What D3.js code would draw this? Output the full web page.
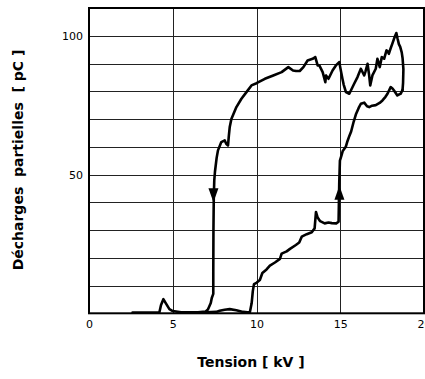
<!DOCTYPE html>
<html>
<head>
<meta charset="UTF-8">
<title>Décharges partielles</title>
<style>
  body {margin:0; background:#fff;}
  text {font-family:"DejaVu Sans", Verdana, sans-serif; fill:#000;}
  .tick text {font-size:11px;}
  .grid line {stroke:#222; stroke-width:1px; shape-rendering:crispEdges;}
  .title {font-size:14px; font-weight:bold;}
  .curve {fill:none; stroke:#000; stroke-width:2.6px; stroke-linejoin:round; stroke-linecap:round;}
</style>
<script src="https://cdn.jsdelivr.net/npm/d3@7"></script>
</head>
<body>
<svg width="425" height="379"></svg>
<script>
// axes
var xTicks = [0, 5, 10, 15, 20];
var yTicks = [50, 100];
var xGrid = [5, 10, 15];
var yGrid = [10, 20, 30, 40, 50, 60, 70, 80, 90, 100];

// tension croissante (kV, pC)
var upKV = [2.6, 4.2, 4.3, 4.44, 4.6, 4.8, 5.0, 5.5, 7.0, 7.6, 7.8, 8.1, 8.4, 8.8, 9.2, 9.6,
  9.71, 9.78, 9.85, 10.0, 10.2, 10.35, 10.6, 10.8, 11.1, 11.4, 11.5, 11.8, 12.0, 12.35, 12.55,
  12.7, 13.0, 13.3, 13.47, 13.55, 13.65, 13.8, 14.07, 14.3, 14.5, 14.76, 14.9, 14.92, 14.94,
  14.98, 15.08, 15.15, 15.33, 15.43, 15.55, 15.65, 15.8, 15.93, 16.1, 16.23, 16.43, 16.6,
  16.73, 16.9, 17.12, 17.35, 17.52, 17.7, 17.82, 18.01, 18.12, 18.21, 18.41, 18.55, 18.61, 18.72];
var upPC = [0.3, 0.3, 3, 5.1, 3.5, 1.5, 0.8, 0.4, 0.4, 0.5, 0.9, 1.3, 1.5, 1.1, 0.5, 0.3,
  3.6, 8, 10.5, 11, 12, 14.5, 15.8, 17.2, 18.3, 19.6, 21.5, 22.3, 23.2, 24.6, 25.5,
  27.6, 28.5, 29.2, 30.6, 36.5, 34.5, 33.2, 32.4, 32.7, 32.5, 32.4, 33, 40, 47,
  55, 57, 58.5, 60, 62, 64, 65.5, 69, 71.6, 74, 75.5, 75.9, 74.6,
  74.3, 74.8, 75, 75.8, 76.7, 78, 79.1, 81.5, 81, 80.3, 78.5, 79, 79.1, 80.5];

// tension décroissante (kV, pC)
var downKV = [18.72, 18.75, 18.77, 18.72, 18.67, 18.58, 18.5, 18.42, 18.35, 18.28, 18.21, 18.1,
  18.0, 17.9, 17.82, 17.76, 17.62, 17.48, 17.36, 17.22, 17.12, 16.92, 16.79, 16.72, 16.63, 16.5,
  16.43, 16.23, 16.03, 15.83, 15.54, 15.34, 15.2, 15.13, 14.94, 14.74, 14.54, 14.3, 14.15, 14.11,
  13.95, 13.75, 13.65, 13.51, 13.35, 13.05, 12.8, 12.58, 12.36, 12.18, 11.9, 11.5, 11.0, 10.5,
  10.0, 9.7, 9.4, 9.1, 8.8, 8.5, 8.4, 8.35, 8.3, 8.2, 8.1, 7.9, 7.7, 7.62, 7.52, 7.48, 7.45,
  7.43, 7.42, 7.42, 7.33, 7.27, 7.1, 6.95, 6.5, 5.3];
var downPC = [80.5, 83, 88, 92, 94, 96, 97, 99, 101, 100, 98.9, 97,
  95.3, 93.5, 94.5, 94.7, 91.7, 92.3, 88.7, 91.7, 88.1, 85.7, 82.1, 86, 89.9, 87,
  85.7, 88.1, 85.1, 82.7, 79.1, 79.7, 82.5, 84.5, 90.5, 89.3, 87.5, 84.5, 85.7, 83.3,
  86.9, 89.3, 89.3, 92.3, 91.7, 91.1, 88.7, 87.3, 87.3, 87.5, 88.7, 86.9, 85.7, 84.5,
  82.9, 82.1, 79.7, 77.3, 74.3, 70, 67, 64, 60.5, 61, 62.3, 61.7, 58.7, 56, 51, 48, 42,
  30, 15, 7, 5.5, 3.7, 1.4, 0.6, 0.4, 0.4];

// flèches de sens
var arrowKV = [7.43, 14.95];
var arrowPC = [40, 46];
var arrowDir = [1, -1]; // 1 = vers le bas, -1 = vers le haut

var svg = d3.select("svg");
var plot = {left: 89, right: 424, top: 8, bottom: 313.3};

var x = d3.scaleLinear().domain([0, 20]).range([plot.left, plot.right]);
var y = d3.scaleLinear().domain([0, 110]).range([plot.bottom, plot.top]);

//... grid
svg.append("g").attr("class", "grid")
  .selectAll("line").data(xGrid).enter().append("line")
  .attr("x1", d => Math.round(x(d)) + 0.5).attr("x2", d => Math.round(x(d)) + 0.5)
  .attr("y1", plot.top).attr("y2", plot.bottom);
svg.append("g").attr("class", "grid")
  .selectAll("line").data(yGrid).enter().append("line")
  .attr("x1", plot.left).attr("x2", plot.right)
  .attr("y1", d => Math.round(y(d)) + 0.5).attr("y2", d => Math.round(y(d)) + 0.5);

//... tick labels
var xAxis = svg.append("g").attr("transform", "translate(0," + plot.bottom + ")")
  .call(d3.axisBottom(x).tickValues(xTicks).tickSize(0).tickPadding(7));
var yAxis = svg.append("g").attr("transform", "translate(" + plot.left + ",0)")
  .call(d3.axisLeft(y).tickValues(yTicks).tickSize(0).tickPadding(6));
xAxis.select(".domain").remove();
yAxis.select(".domain").remove();
svg.selectAll(".tick text").attr("font-family", null).attr("font-size", null);

//... frame
svg.append("rect")
  .attr("x", plot.left).attr("y", plot.top)
  .attr("width", plot.right - plot.left).attr("height", plot.bottom - plot.top)
  .attr("fill", "none").attr("stroke", "#000").attr("stroke-width", 2);

//... curves
var line = d3.line().x(d => x(d[0])).y(d => y(d[1]));
svg.append("path").attr("class", "curve").attr("d", line(d3.zip(upKV, upPC)));
svg.append("path").attr("class", "curve").attr("d", line(d3.zip(downKV, downPC)));

//... arrows
svg.append("g").selectAll("path").data(d3.range(arrowKV.length)).enter().append("path")
  .attr("d", i => {
    var tx = x(arrowKV[i]), ty = y(arrowPC[i]), by = ty - 14 * arrowDir[i];
    return "M" + tx + "," + ty + "L" + (tx - 5) + "," + by + "L" + (tx + 5) + "," + by + "Z";
  })
  .attr("fill", "#000");

//... titles
svg.append("text").attr("class", "title")
  .attr("x", 251).attr("y", 367)
  .attr("text-anchor", "middle")
  .text("Tension [ kV ]");
svg.append("text").attr("class", "title")
  .attr("transform", "translate(23,160) rotate(-90)")
  .attr("text-anchor", "middle")
  .attr("xml:space", "preserve")
  .text("Décharges  partielles  [ pC ]");
</script>
</body>
</html>
